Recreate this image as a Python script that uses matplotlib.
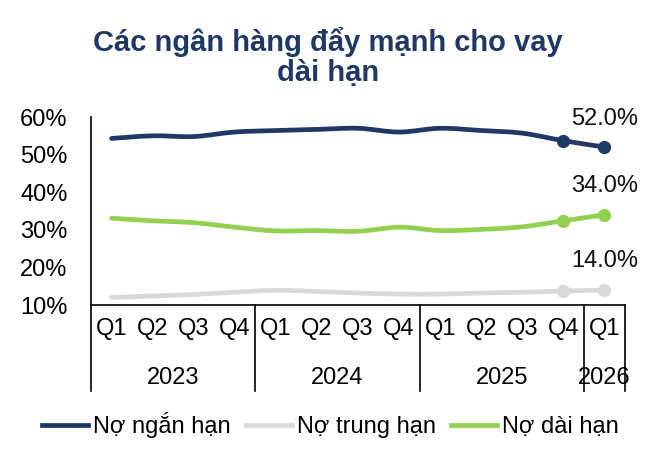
import matplotlib
matplotlib.use("Agg")
import matplotlib.pyplot as plt
import numpy as np
from matplotlib.path import Path
from matplotlib.patches import PathPatch
from matplotlib.lines import Line2D
import matplotlib.transforms as mtransforms

plt.rcParams['font.family'] = ['Liberation Sans', 'DejaVu Sans']

quarters = ["Q1", "Q2", "Q3", "Q4", "Q1", "Q2", "Q3", "Q4", "Q1", "Q2", "Q3", "Q4", "Q1"]
years = ["2023", "2024", "2025", "2026"]
year_counts = [4, 4, 4, 1]

short_term = [54.3, 55.0, 54.8, 56.0, 56.4, 56.7, 57.0, 56.0, 57.0, 56.4, 55.7, 53.7, 52.0]
medium_term = [12.0, 12.4, 12.8, 13.4, 13.9, 13.6, 13.2, 12.9, 12.9, 13.2, 13.4, 13.7, 14.0]
long_term = [33.1, 32.4, 31.9, 30.7, 29.7, 29.8, 29.6, 30.7, 29.8, 30.1, 30.8, 32.4, 34.0]

series_names = ["Nợ ngắn hạn", "Nợ trung hạn", "Nợ dài hạn"]
colors = ["#1F3864", "#D9D9D9", "#92D050"]

title = "Các ngân hàng đẩy mạnh cho vay\ndài hạn"

FS = 17

fig = plt.figure(figsize=(6.57, 4.55), dpi=100)
ax = fig.add_axes([91/657, 1-305/455, (625-91)/657, (305-117)/455])

x = np.arange(len(quarters))


def smooth_path(xs, ys, t=1/6):
    xs = np.asarray(xs, float)
    ys = np.asarray(ys, float)
    n = len(xs)
    verts = [(xs[0], ys[0])]
    codes = [Path.MOVETO]
    for i in range(n - 1):
        p0 = np.array([xs[max(i-1, 0)], ys[max(i-1, 0)]])
        p1 = np.array([xs[i], ys[i]])
        p2 = np.array([xs[i+1], ys[i+1]])
        p3 = np.array([xs[min(i+2, n-1)], ys[min(i+2, n-1)]])
        c1 = p1 + (p2 - p0) * t
        c2 = p2 - (p3 - p1) * t
        verts += [tuple(c1), tuple(c2), tuple(p2)]
        codes += [Path.CURVE4] * 3
    return Path(verts, codes)


for vals, c in zip([short_term, medium_term, long_term], colors):
    patch = PathPatch(smooth_path(x, vals), facecolor='none', edgecolor=c,
                      lw=3.4, capstyle='round', joinstyle='round', zorder=3)
    ax.add_patch(patch)
    ax.plot(x[-2:], vals[-2:], linestyle='none', marker='o', ms=8.5,
            color=c, zorder=4)
    ax.annotate(f"{vals[-1]:.1f}%", (x[-1], vals[-1]), xytext=(0, 20.5),
                textcoords='offset points', ha='center', va='center',
                fontsize=FS, color='#111111')

ax.set_xlim(-0.5, len(quarters) - 0.5)
ax.set_ylim(10, 60)
ax.set_yticks([10, 20, 30, 40, 50, 60])
ax.set_yticklabels([f"{v}%" for v in [10, 20, 30, 40, 50, 60]], fontsize=FS)
ax.tick_params(axis='y', length=0, pad=17)
ax.set_xticks([])
for s in ['top', 'right']:
    ax.spines[s].set_visible(False)
ax.spines['left'].set_linewidth(1.2)
ax.spines['bottom'].set_linewidth(1.2)

trans = mtransforms.blended_transform_factory(ax.transData, ax.transAxes)
for xi, q in zip(x, quarters):
    ax.text(xi, -0.13, q, transform=trans, ha='center', va='center', fontsize=FS)

bottom = -0.46
start = 0
bounds = [-0.5]
for yr, cnt in zip(years, year_counts):
    center = start + (cnt - 1) / 2
    ax.text(center, -0.39, yr, transform=trans, ha='center', va='center', fontsize=FS)
    start += cnt
    bounds.append(start - 0.5)
for b in bounds:
    ax.add_line(Line2D([b, b], [0, bottom], transform=trans, color='black',
                       lw=1.2, clip_on=False))

fig.text(0.499, 1 - 57/455, title, ha='center', va='center', fontsize=21,
         fontweight='bold', color='#1F3864', linespacing=1.12)

handles = [Line2D([0], [0], color=c, lw=3.4) for c in colors]
fig.legend(handles, series_names, loc='center', bbox_to_anchor=(0.503, 1 - 425/455),
           ncol=3, frameon=False, fontsize=FS, handlelength=1.95,
           handletextpad=0.2, columnspacing=0.65)

fig.savefig("out.png", dpi=100, facecolor='white')
